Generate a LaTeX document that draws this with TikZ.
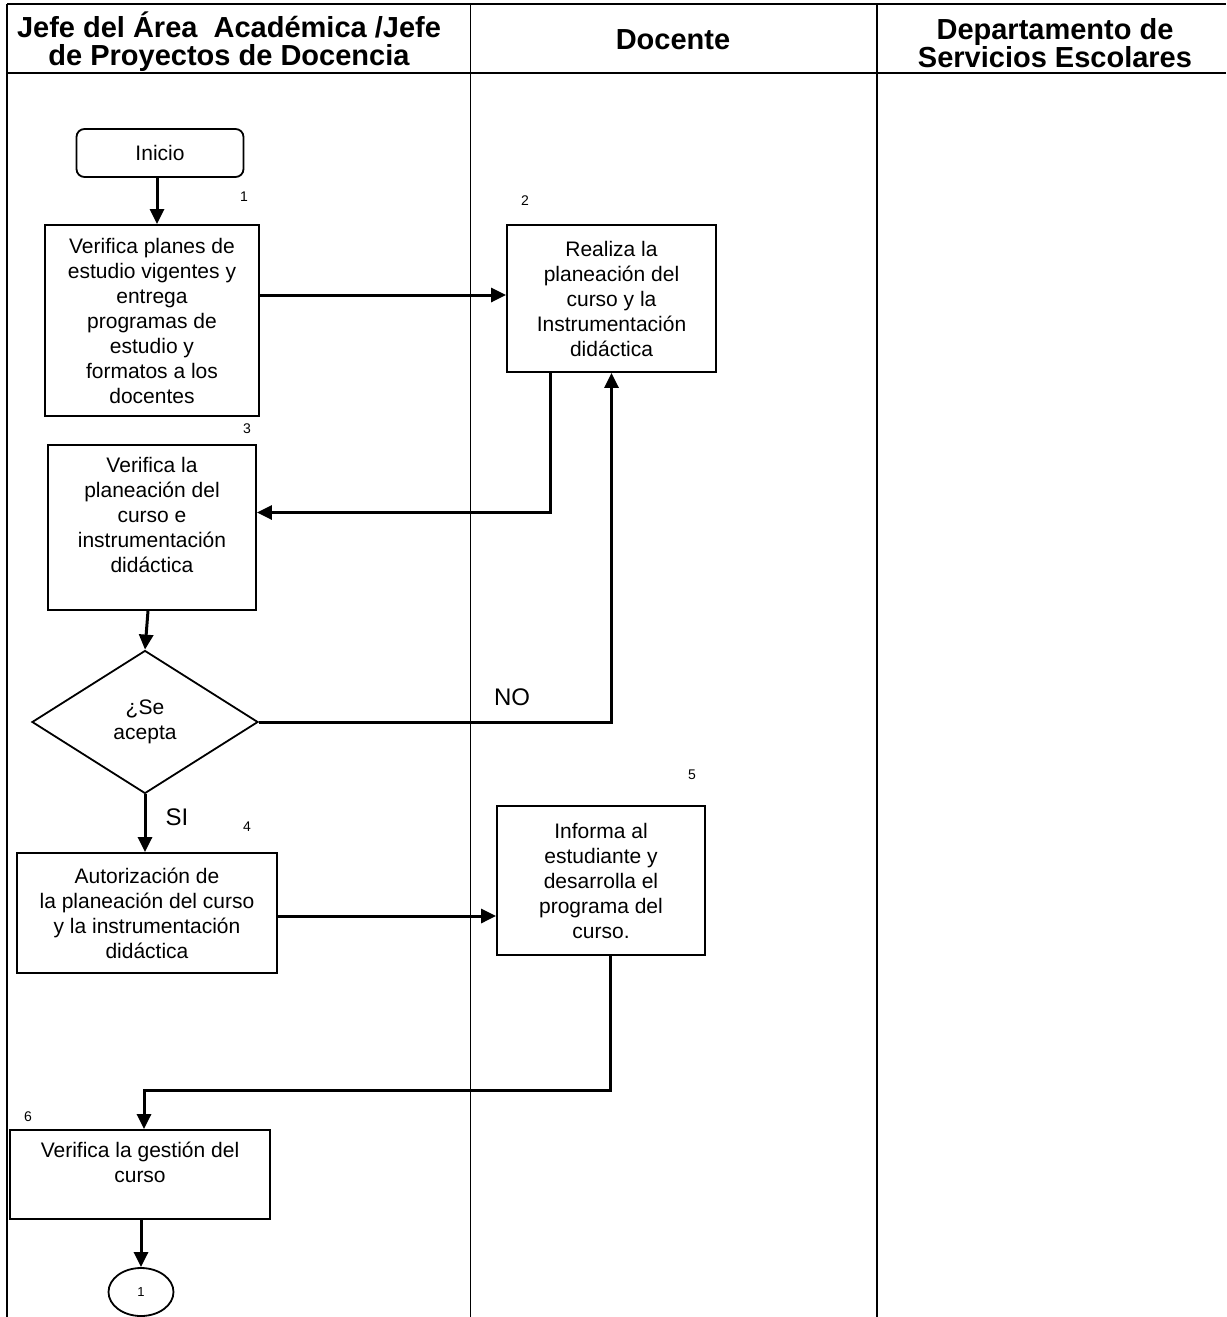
\documentclass[tikz,border=0pt]{standalone}
\usepackage{fontspec}
\setmainfont{Liberation Sans}
\usetikzlibrary{shapes.geometric,arrows.meta}

\begin{document}
\begin{tikzpicture}[x=1pt,y=-1pt,
        caja/.style={draw,line width=1.8pt,align=center,inner sep=0pt,font=\fontsize{21}{25}\selectfont},
        flecha/.style={line width=3pt,-{Triangle[length=15pt,width=14pt]}},
        num/.style={font=\fontsize{14}{16}\selectfont},
        rotulo/.style={font=\fontsize{24}{26}\selectfont},
        titulo/.style={align=center,font=\bfseries\fontsize{29}{28}\selectfont}]

        \useasboundingbox (0,0) rectangle (1226,1317);

        % Marco y carriles
        \draw[line width=1.5pt] (7,4) -- (1226,4) (7,73) -- (1226,73);
        \foreach \x in {7,470.5,877}
            \draw[line width=1.5pt] (\x,4) -- (\x,1317);
        \node[titulo] (jefe) at (229,42) {Jefe del Área\ \ Académica /Jefe\\de Proyectos de Docencia};
        \node[titulo] (docente) at (673,40) {Docente};
        \node[titulo] (escolares) at (1055,43) {Departamento de\\Servicios Escolares};

        % Nodos
        \node[caja,rounded corners=8pt,minimum width=167pt,minimum height=48pt] (inicio) at (160,153) {Inicio};
        \node[caja,minimum width=214pt,minimum height=191pt] (p1) at (152,320.5)
            {Verifica planes de\\estudio vigentes y\\entrega\\programas de\\estudio y\\formatos a los\\docentes};
        \node[caja,minimum width=209pt,minimum height=147pt] (p2) at (611.5,298.5)
            {Realiza la\\planeación del\\curso y la\\Instrumentación\\didáctica};
        \node[caja,minimum width=208pt,minimum height=165pt] (p3) at (152,527.5)
            {Verifica la\\planeación del\\curso e\\instrumentación\\didáctica\\\mbox{}};
        \node[caja,diamond,minimum width=226pt,minimum height=143pt] (dec) at (145,722) {¿Se\\acepta};
        \node[caja,minimum width=260pt,minimum height=120pt] (p4) at (147,913)
            {Autorización de\\la planeación del curso\\y la instrumentación\\didáctica};
        \node[caja,minimum width=208pt,minimum height=149pt] (p5) at (601,880.5)
            {Informa al\\estudiante y\\desarrolla el\\programa del\\curso.};
        \node[caja,minimum width=260pt,minimum height=89pt] (p6) at (140,1174.5)
            {Verifica la gestión del\\curso\\\mbox{}};
        \node[caja,ellipse,minimum width=65pt,minimum height=48pt,font=\fontsize{13}{15}\selectfont] (fin) at (141,1292) {1};

        % numeros de paso
        \node[num] (n1) at (244,197) {1};
        \node[num] (n2) at (525,201) {2};
        \node[num] (n3) at (247,429) {3};
        \node[num] (n4) at (247,827) {4};
        \node[num] (n5) at (692,775) {5};
        \node[num] (n6) at (28,1117) {6};
        \node[rotulo] (no) at (512,697) {NO};
        \node[rotulo] (si) at (177,817) {SI};

        % Conectores
        \coordinate (codo) at (144,1090);
        \draw[flecha] ([xshift=-3pt]inicio.south) -- ([xshift=-3pt]inicio.south |- p1.north);
        \draw[flecha] (p1.east |- 0,295) -- (p2.west |- 0,295);
        \draw[flecha] ([xshift=-61pt]p2.south) |- ([yshift=15pt]p3.east);
        \draw[flecha] ([xshift=-4pt]p3.south) -- (dec.north);
        \draw[flecha] (dec.east) -| (p2.south);
        \draw[flecha] (dec.south) -- (dec.south |- p4.north);
        \draw[flecha] (p4.east |- 0,916) -- (p5.west |- 0,916);
        \draw[flecha] ([xshift=9pt]p5.south) |- (codo) -- (codo |- p6.north);
        \draw[flecha] (p6.south -| fin.north) -- (fin.north);
    \end{tikzpicture}
\end{document}
